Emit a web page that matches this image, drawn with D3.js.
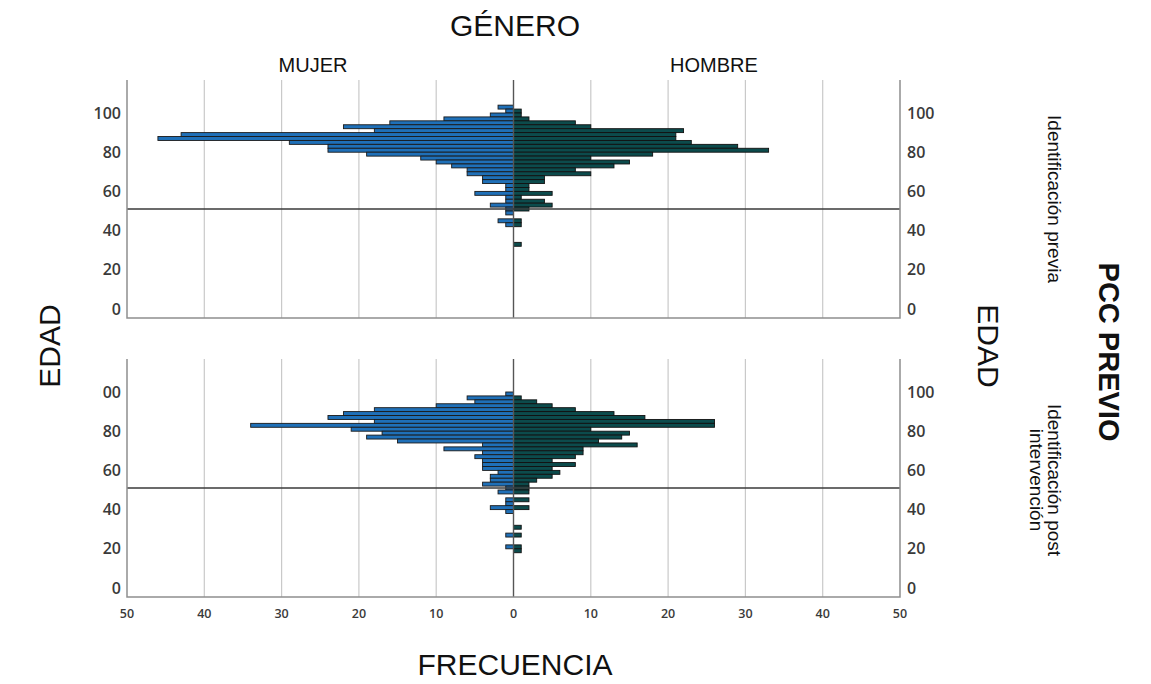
<!DOCTYPE html>
<html>
<head>
<meta charset="utf-8">
<script src="https://cdn.jsdelivr.net/npm/d3@7"></script>
<style>
  body { margin: 0; background: #fff; }
  svg text { font-family: "Liberation Sans", Arial, sans-serif; }
  .tick-label { font-family: "Open Sans", sans-serif; font-weight: 600; fill: #3a3a3a; }
</style>
</head>
<body>
<div id="chart"></div>
<script>
// age bins (centre of each 2 year bin), top to bottom
const agesPrevia = [103,101,99,97,95,93,91,89,87,85,83,81,79,77,75,73,71,69,67,65,63,61,59,57,55,53,51,49,47,45,43,41,39,37,35,33];
const mujerPrevia = [2,1,3,9,16,22,18,43,46,29,24,24,19,12,10,8,6,6,4,4,1,1,5,1,1,3,1,1,0,2,1,0,0,0,0,0];
const hombrePrevia = [0,1,1,2,8,10,22,21,21,23,29,33,18,10,15,13,8,10,4,4,2,2,5,1,4,5,2,0,0,1,1,0,0,0,0,1];

const agesPost = [99,97,95,93,91,89,87,85,83,81,79,77,75,73,71,69,67,65,63,61,59,57,55,53,51,49,47,45,43,41,39,37,35,33,31,29,27,25,23,21,19,17];
const mujerPost = [1,6,5,10,18,22,24,18,34,21,17,19,15,4,9,4,5,4,4,4,2,3,3,4,1,2,0,1,1,3,1,0,0,0,0,0,1,0,0,1,0,0];
const hombrePost = [0,1,3,5,8,13,17,26,26,10,15,14,11,16,9,9,8,5,8,5,6,5,3,2,2,2,0,2,0,2,0,0,0,0,1,0,1,0,0,1,1,0];

const sexes = ['MUJER', 'HOMBRE'];
const groups = [['Identificación previa'], ['Identificación post', 'intervención']];
const xTicks = [-50,-40,-30,-20,-10,0,10,20,30,40,50];
const yTicks = [0,20,40,60,80,100];
const refAge = 51;
const binWidth = 2;

const width = 1151, height = 684;
const left = 127, right = 900;
const panels = [
    {top: 80, bottom: 318, ages: agesPrevia, mujer: mujerPrevia, hombre: hombrePrevia, label: groups[0]},
    {top: 359, bottom: 597, ages: agesPost, mujer: mujerPost, hombre: hombrePost, label: groups[1]}
];

const svg = d3.select('#chart').append('svg')
    .attr('width', width)
    .attr('height', height);

const x = d3.scaleLinear().domain([-50, 50]).range([left, right]);

svg.append('clipPath').attr('id', 'leftclip')
    .append('rect').attr('x', 100).attr('y', 340).attr('width', 40).attr('height', 270);

panels.forEach((p, i) => {
    const y = d3.scaleLinear().domain([0, 100]).range([p.bottom - 9, p.bottom - 9 - 196]);
    const g = svg.append('g').classed('panel', true);

    // grid lines
    g.selectAll('line.grid')
        .data(xTicks.filter(d => d !== 0 && Math.abs(d) !== 50))
        .join('line')
        .classed('grid', true)
        .attr('x1', d => x(d)).attr('x2', d => x(d))
        .attr('y1', p.top).attr('y2', p.bottom)
        .attr('stroke', '#c9c9c9').attr('stroke-width', 1.2);

    const bins = p.ages.map((a, j) => ({age: a, m: p.mujer[j], h: p.hombre[j]}));
    const barH = y(0) - y(binWidth);

    // mujer bars to the left
    g.selectAll('rect.mujer')
        .data(bins.filter(d => d.m > 0))
        .join('rect')
        .classed('mujer', true)
        .attr('x', d => x(-d.m))
        .attr('y', d => y(d.age + binWidth / 2))
        .attr('width', d => x(0) - x(-d.m))
        .attr('height', barH)
        .attr('fill', '#1f70b8')
        .attr('stroke', '#1a1a1a').attr('stroke-width', 0.9);

    // hombre bars to the right
    g.selectAll('rect.hombre')
        .data(bins.filter(d => d.h > 0))
        .join('rect')
        .classed('hombre', true)
        .attr('x', x(0))
        .attr('y', d => y(d.age + binWidth / 2))
        .attr('width', d => x(d.h) - x(0))
        .attr('height', barH)
        .attr('fill', '#0c4b4c')
        .attr('stroke', '#111').attr('stroke-width', 0.9);

    // zero line
    g.append('line')
        .attr('x1', x(0)).attr('x2', x(0))
        .attr('y1', p.top).attr('y2', p.bottom)
        .attr('stroke', '#555').attr('stroke-width', 1.4);

    // reference line
    g.append('line')
        .attr('x1', left).attr('x2', right)
        .attr('y1', y(refAge)).attr('y2', y(refAge))
        .attr('stroke', '#3a3a3a').attr('stroke-width', 1.6);

    // frame
    g.append('path')
        .attr('d', `M${left},${p.top}V${p.bottom}H${right}V${p.top}`)
        .attr('fill', 'none')
        .attr('stroke', '#8f8f8f').attr('stroke-width', 1.5);

    // y labels both sides
    const ly = g.append('g');
    if (i === 1) ly.attr('clip-path', 'url(#leftclip)');
    ly.selectAll('text')
        .data(yTicks)
        .join('text')
        .classed('tick-label', true)
        .attr('x', left - 6)
        .attr('y', d => y(d))
        .attr('dy', '0.35em')
        .attr('text-anchor', 'end')
        .attr('font-size', 16)
        .text(d => d);
    g.append('g').selectAll('text')
        .data(yTicks)
        .join('text')
        .classed('tick-label', true)
        .attr('x', right + 7)
        .attr('y', d => y(d))
        .attr('dy', '0.35em')
        .attr('font-size', 16)
        .text(d => d);

    // right panel label
    const cy = i === 0 ? 199 : 480;
    p.label.forEach((t, k) => {
        svg.append('text')
            .attr('transform', `translate(${1048 - k * 18},${cy}) rotate(90)`)
            .attr('text-anchor', 'middle')
            .attr('font-size', 19)
            .attr('fill', '#111')
            .text(t);
    });
});

// x axis labels
svg.append('g').selectAll('text')
    .data(xTicks)
    .join('text')
    .classed('tick-label', true)
    .attr('x', d => x(d))
    .attr('y', 618)
    .attr('text-anchor', 'middle')
    .attr('font-size', 12.5)
    .text(d => Math.abs(d));

// titles
svg.append('text').attr('x', 515).attr('y', 36).attr('text-anchor', 'middle')
    .attr('font-size', 30).attr('fill', '#111').text('GÉNERO');
svg.selectAll('text.sex')
    .data(sexes)
    .join('text')
    .classed('sex', true)
    .attr('x', (d, i) => i === 0 ? 313 : 714)
    .attr('y', 72)
    .attr('text-anchor', 'middle')
    .attr('font-size', 20)
    .attr('fill', '#111')
    .text(d => d);
svg.append('text').attr('x', 515).attr('y', 675).attr('text-anchor', 'middle')
    .attr('font-size', 30).attr('fill', '#111').text('FRECUENCIA');
svg.append('text').attr('transform', 'translate(60,346) rotate(-90)').attr('text-anchor', 'middle')
    .attr('font-size', 30).attr('fill', '#111').text('EDAD');
svg.append('text').attr('transform', 'translate(978,346) rotate(90)').attr('text-anchor', 'middle')
    .attr('font-size', 30).attr('fill', '#111').text('EDAD');
svg.append('text').attr('transform', 'translate(1099,352) rotate(90)').attr('text-anchor', 'middle')
    .attr('font-size', 29).attr('font-weight', 'bold').attr('fill', '#111').text('PCC PREVIO');
</script>
</body>
</html>
